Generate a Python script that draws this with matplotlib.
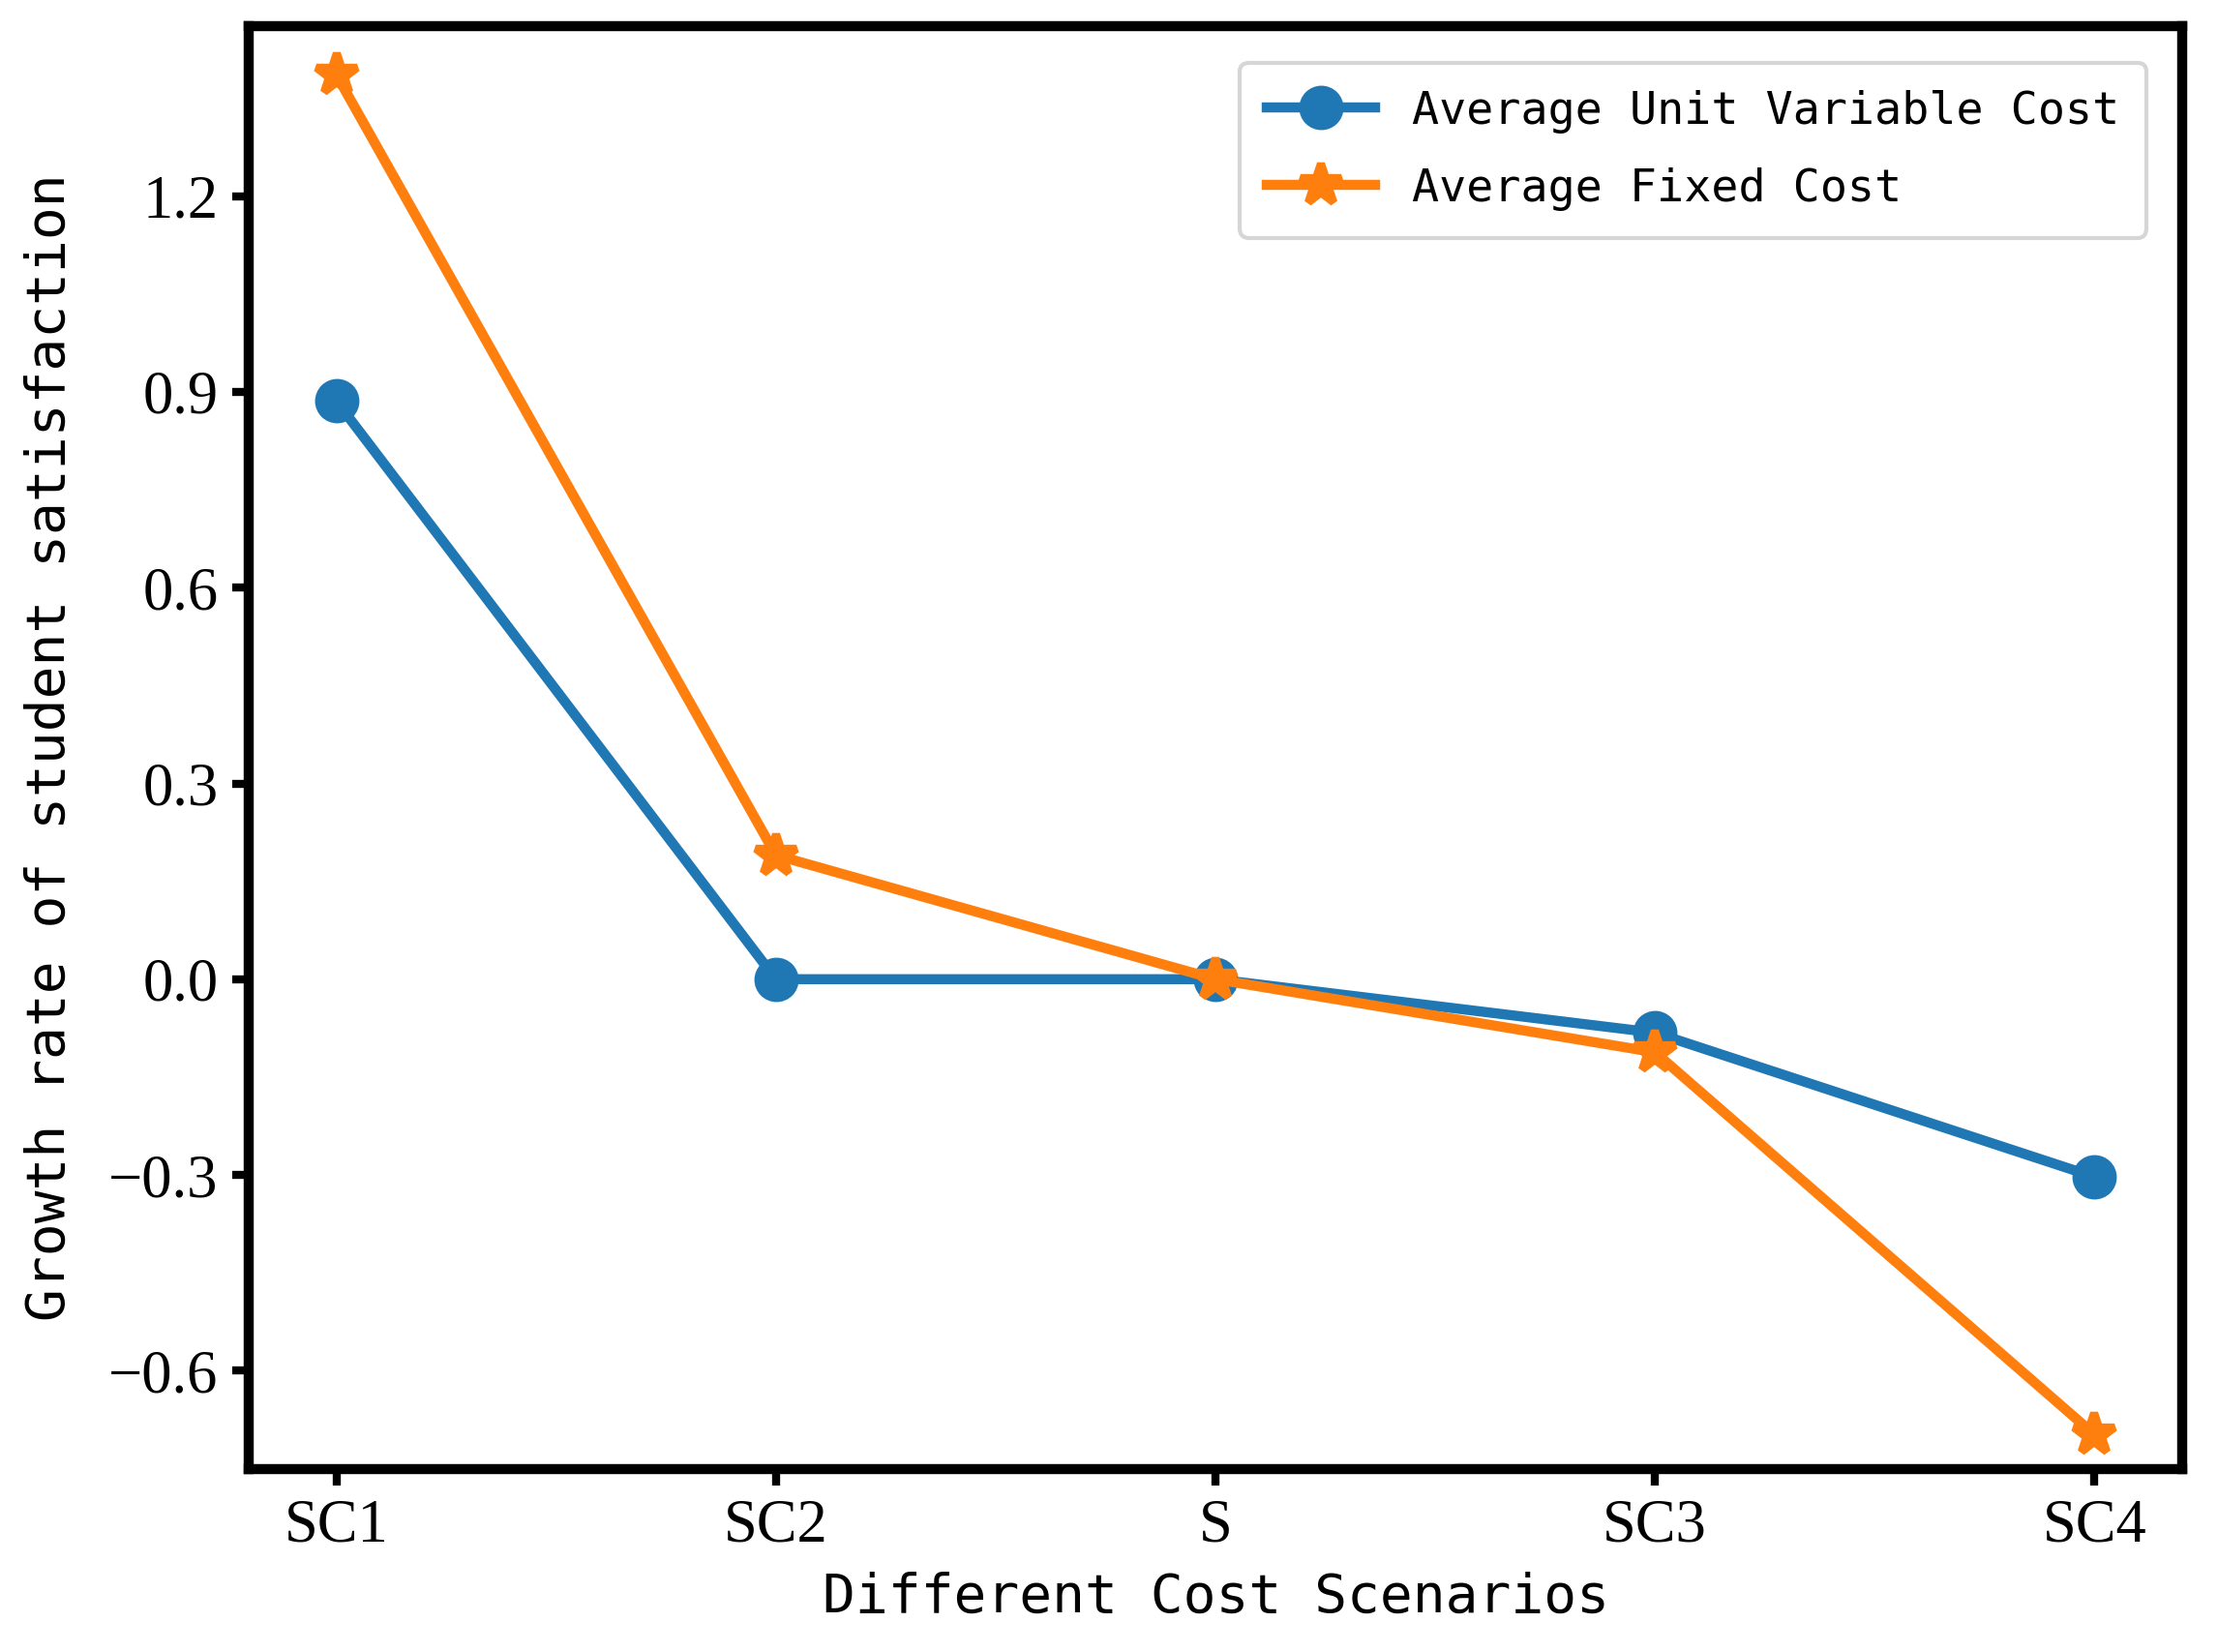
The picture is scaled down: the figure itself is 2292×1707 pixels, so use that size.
import matplotlib.pyplot as plt
import numpy as np

scenarios = ["SC1", "SC2", "S", "SC3", "SC4"]
unit_variable = [0.886, 0.0, 0.0, -0.082, -0.303]
fixed_cost = [1.386, 0.190, 0.0, -0.112, -0.698]
yticks = [-0.6, -0.3, 0.0, 0.3, 0.6, 0.9, 1.2]

mono = "DejaVu Sans Mono"
serif = "Liberation Serif"

fig = plt.figure(figsize=(7.64, 5.69), dpi=300)
ax = fig.add_axes([0.112, 0.111, 0.872, 0.873])

x = np.arange(len(scenarios))
ax.plot(x, unit_variable, color="#1f77b4", lw=2.5, marker="o", markersize=10,
        label="Average Unit Variable Cost")
ax.plot(x, fixed_cost, color="#ff7f0e", lw=2.5, marker="*", markersize=10.5,
        markeredgewidth=2, label="Average Fixed Cost")

ax.set_xlim(-0.2, 4.2)
ax.set_ylim(-0.75, 1.46)
ax.set_xticks(x)
ax.set_xticklabels(scenarios, fontfamily=serif, fontsize=15)
ax.set_yticks(yticks)
ax.set_yticklabels(["\u2212%.1f" % abs(v) if v < 0 else "%.1f" % v for v in yticks],
                   fontfamily=serif, fontsize=15)
ax.tick_params(width=2, length=4)
for s in ax.spines.values():
    s.set_linewidth(2.5)

ax.set_xlabel("Different Cost Scenarios", fontfamily=mono, fontsize=13.5, labelpad=4)
ax.set_ylabel("Growth rate of student satisfaction", fontfamily=mono, fontsize=13.5,
              labelpad=8)
ax.legend(loc="upper right", prop={"family": mono, "size": 11.2}, handlelength=2.4,
          labelspacing=0.75, borderpad=0.6, borderaxespad=0.8)

fig.savefig("out.png", dpi=300)
